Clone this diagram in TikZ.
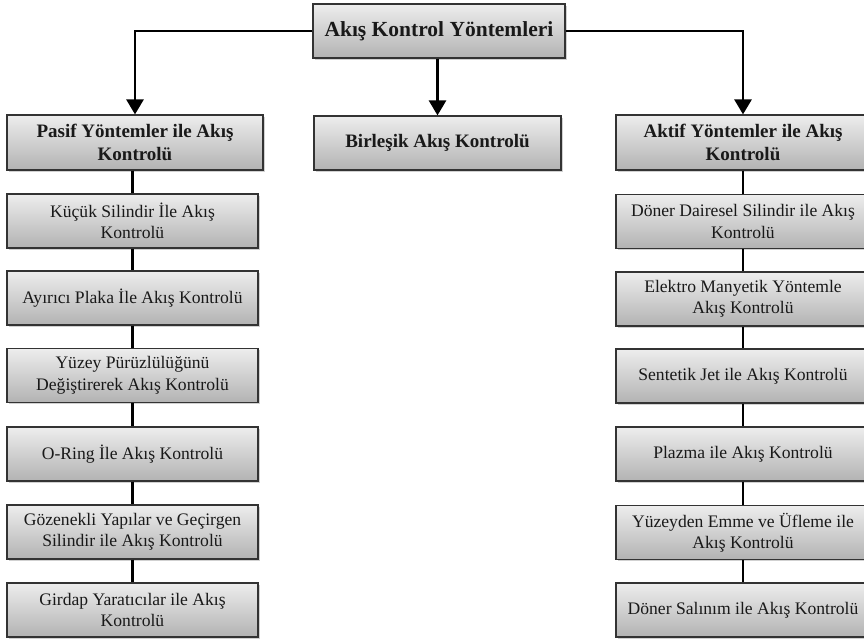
\documentclass[tikz,border=0pt]{standalone}
\usepackage{fontspec}
\setmainfont{Liberation Serif}
\usetikzlibrary{arrows.meta,shadows}
\begin{document}
\begin{tikzpicture}[x=1pt,y=-1pt,
  box/.style={draw=black!80, line width=1.2pt, rectangle, align=center,
    top color=black!7, bottom color=black!30, inner sep=2pt,
    drop shadow={shadow xshift=1.5pt, shadow yshift=-1.5pt, fill=black!30, opacity=0.6},
    font=\fontsize{17.6}{21.5}\selectfont, text=black!90},
  hdr/.style={box, font=\bfseries\fontsize{19}{23}\selectfont},
  conn/.style={line width=2.8pt, draw=black},
  arr/.style={conn, -{Triangle[width=17pt,length=15pt]}}
]
\useasboundingbox (0,0) rectangle (864,640);
% top
\node[hdr, minimum width=252pt, minimum height=54pt, font=\bfseries\fontsize{21.5}{25}\selectfont] (top) at (439,31) {Akış Kontrol Yöntemleri};
% headers
\node[hdr, minimum width=256pt, minimum height=55pt] (pasif) at (135,142.5) {Pasif Yöntemler ile Akış\\Kontrolü};
\node[hdr, minimum width=247pt, minimum height=54pt] (birl) at (437.5,143) {Birleşik Akış Kontrolü};
\node[hdr, minimum width=254pt, minimum height=55pt] (aktif) at (743,142.5) {Aktif Yöntemler ile Akış\\Kontrolü};
% left column
\begin{scope}[every node/.append style={box, minimum width=251pt, minimum height=54pt}]
\node (l1) at (132.5,221) {Küçük Silindir İle Akış\\Kontrolü};
\node (l2) at (132.5,298) {Ayırıcı Plaka İle Akış Kontrolü};
\node (l3) at (132.5,375.5) {Yüzey Pürüzlülüğünü\\Değiştirerek Akış Kontrolü};
\node (l4) at (132.5,454) {O-Ring İle Akış Kontrolü};
\node (l5) at (132.5,532) {Gözenekli Yapılar ve Geçirgen\\Silindir ile Akış Kontrolü};
\node (l6) at (132.5,610) {Girdap Yaratıcılar ile Akış\\Kontrolü};
\end{scope}
% right column
\begin{scope}[every node/.append style={box, minimum width=254pt, minimum height=54pt}]
\node (r1) at (743,221.5) {Döner Dairesel Silindir ile Akış\\Kontrolü};
\node (r2) at (743,299) {Elektro Manyetik Yöntemle\\Akış Kontrolü};
\node (r3) at (743,376) {Sentetik Jet ile Akış Kontrolü};
\node (r4) at (743,454) {Plazma ile Akış Kontrolü};
\node (r5) at (743,532.5) {Yüzeyden Emme ve Üfleme ile\\Akış Kontrolü};
\node (r6) at (743,610) {Döner Salınım ile Akış Kontrolü};
\end{scope}
% arrows from top
\draw[arr] (top.west) -| (pasif.north);
\draw[arr] (top.east) -| (aktif.north);
\draw[arr] (top.south -| birl.north) -- (birl.north);
% column connectors
\draw[conn] (pasif.south -| l1.north) -- (l1.north);
\foreach \a/\b in {l1/l2,l2/l3,l3/l4,l4/l5,l5/l6}{\draw[conn] (\a.south) -- (\b.north);}
\draw[conn] (aktif.south) -- (r1.north);
\foreach \a/\b in {r1/r2,r2/r3,r3/r4,r4/r5,r5/r6}{\draw[conn] (\a.south) -- (\b.north);}
\end{tikzpicture}
\end{document}
